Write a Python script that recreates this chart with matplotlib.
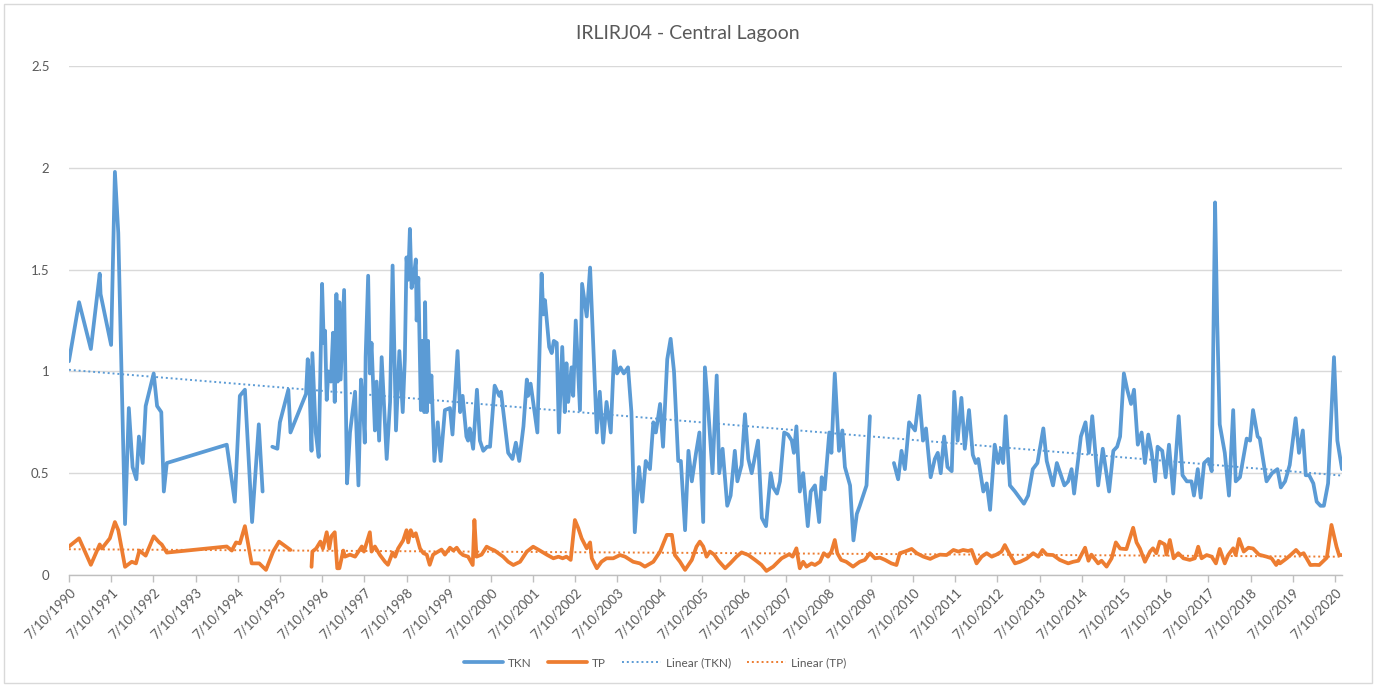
import numpy as np
import matplotlib
matplotlib.use("Agg")
import matplotlib.pyplot as plt
import matplotlib.dates as mdates
from matplotlib.patches import Rectangle
from datetime import datetime, timedelta

plt.rcParams['font.family'] = ['Lato', 'DejaVu Sans']

title = "IRLIRJ04 - Central Lagoon"
series_names = ["TKN", "TP", "Linear (TKN)", "Linear (TP)"]
tick_years = list(range(1990, 2021))

# sampling dates (decimal years) and values; NaN marks breaks in the line
tkn_years = [
    1990.52, 1990.76, 1991.04, 1991.25, 1991.27, 1991.52, 1991.61, 1991.69, 1991.85, 1991.94,
    1992.03, 1992.12, 1992.18, 1992.27, 1992.34, 1992.53, 1992.61, 1992.71, 1992.77, 1992.84,
    1994.26, 1994.45, 1994.57, 1994.69, 1994.86, 1995.02, 1995.11, 1995.20, 1995.34, 1995.46,
    1995.52, 1995.72, 1995.77, 1996.14, 1996.18, 1996.21, 1996.27, 1996.29, 1996.37, 1996.44,
    1996.52, 1996.56, 1996.59, 1996.63, 1996.67, 1996.73, 1996.78, 1996.82, 1996.86, 1996.89,
    1996.93, 1996.96, 1997.04, 1997.11, 1997.18, 1997.30, 1997.38, 1997.44, 1997.49, 1997.53,
    1997.55, 1997.61, 1997.65, 1997.69, 1997.77, 1997.81, 1997.87, 1997.93, 1998.05, 1998.13,
    1998.19, 1998.27, 1998.35, 1998.43, 1998.48, 1998.52, 1998.56, 1998.60, 1998.64, 1998.70,
    1998.74, 1998.76, 1998.80, 1998.86, 1998.90, 1998.94, 1998.96, 1999.00, 1999.03, 1999.07,
    1999.11, 1999.18, 1999.26, 1999.33, 1999.43, 1999.55, 1999.61, 1999.73, 1999.79, 1999.85,
    1999.94, 1999.98, 2000.02, 2000.10, 2000.19, 2000.26, 2000.34, 2000.43, 2000.50, 2000.61,
    2000.72, 2000.76, 2000.93, 2001.03, 2001.11, 2001.19, 2001.29, 2001.37, 2001.40, 2001.46,
    2001.62, 2001.72, 2001.76, 2001.80, 2001.90, 2001.96, 2002.01, 2002.08, 2002.13, 2002.21,
    2002.27, 2002.31, 2002.35, 2002.43, 2002.47, 2002.53, 2002.63, 2002.68, 2002.79, 2002.87,
    2003.03, 2003.10, 2003.18, 2003.26, 2003.36, 2003.44, 2003.51, 2003.59, 2003.67, 2003.77,
    2003.85, 2003.93, 2004.03, 2004.11, 2004.19, 2004.29, 2004.37, 2004.43, 2004.53, 2004.60,
    2004.70, 2004.78, 2004.86, 2004.96, 2005.02, 2005.12, 2005.20, 2005.28, 2005.38, 2005.46,
    2005.55, 2005.59, 2005.67, 2005.77, 2005.87, 2005.93, 2006.01, 2006.12, 2006.20, 2006.30,
    2006.36, 2006.46, 2006.54, 2006.62, 2006.70, 2006.85, 2006.94, 2007.04, 2007.15, 2007.21,
    2007.30, 2007.37, 2007.47, 2007.56, 2007.65, 2007.70, 2007.76, 2007.84, 2007.92, 2008.03,
    2008.10, 2008.20, 2008.30, 2008.36, 2008.43, 2008.54, 2008.59, 2008.67, 2008.77, 2008.85,
    2008.91, 2009.03, 2009.11, 2009.19, 2009.26, 2009.42, 2009.50, 2009.80, 2010.07, 2010.17,
    2010.25, 2010.33, 2010.43, 2010.57, 2010.67, 2010.76, 2010.83, 2010.94, 2011.04, 2011.11,
    2011.18, 2011.26, 2011.34, 2011.44, 2011.50, 2011.58, 2011.67, 2011.75, 2011.85, 2011.94,
    2012.01, 2012.07, 2012.19, 2012.27, 2012.35, 2012.46, 2012.54, 2012.61, 2012.66, 2012.72,
    2012.82, 2012.94, 2013.15, 2013.25, 2013.36, 2013.47, 2013.61, 2013.69, 2013.84, 2013.93,
    2014.11, 2014.20, 2014.28, 2014.34, 2014.50, 2014.61, 2014.69, 2014.77, 2014.91, 2015.02,
    2015.17, 2015.27, 2015.36, 2015.43, 2015.52, 2015.60, 2015.69, 2015.76, 2015.85, 2015.94,
    2016.02, 2016.10, 2016.18, 2016.26, 2016.32, 2016.43, 2016.51, 2016.59, 2016.69, 2016.82,
    2016.91, 2017.01, 2017.12, 2017.18, 2017.27, 2017.34, 2017.42, 2017.52, 2017.60, 2017.68,
    2017.73, 2017.79, 2017.91, 2018.01, 2018.11, 2018.17, 2018.27, 2018.43, 2018.51, 2018.58,
    2018.69, 2018.74, 2018.90, 2019.03, 2019.16, 2019.24, 2019.34, 2019.45, 2019.59, 2019.67,
    2019.76, 2019.83, 2019.91, 2020.01, 2020.09, 2020.18, 2020.26, 2020.36, 2020.50, 2020.58,
    2020.69,
]
tkn_values = [
    1.05, 1.34, 1.11, 1.48, 1.38, 1.13, 1.98, 1.68, 0.25, 0.82,
    0.53, 0.47, 0.68, 0.55, 0.83, 0.99, 0.83, 0.80, 0.41, 0.55,
    0.64, 0.36, 0.88, 0.91, 0.26, 0.74, 0.41, np.nan, 0.63, 0.62,
    0.75, 0.91, 0.70, 0.89, 1.06, 1.00, 0.61, 1.09, 0.70, 0.58,
    1.43, 1.14, 1.20, 0.86, 1.00, 0.95, 1.19, 0.85, 1.38, 0.95,
    1.34, 0.96, 1.40, 0.45, 0.70, 0.90, 0.44, 0.96, 0.83, 0.65,
    1.07, 1.47, 0.99, 1.14, 0.71, 0.95, 0.66, 1.07, 0.57, 0.85,
    1.52, 0.71, 1.10, 0.80, 1.06, 1.56, 1.45, 1.70, 1.41, 1.48,
    1.55, 1.25, 1.46, 0.81, 1.15, 0.80, 1.34, 0.80, 1.15, 0.85,
    0.98, 0.56, 0.75, 0.56, 0.81, 0.82, 0.69, 1.10, 0.80, 0.88,
    0.68, 0.66, 0.72, 0.62, 0.91, 0.66, 0.61, 0.63, 0.63, 0.93,
    0.88, 0.90, 0.60, 0.57, 0.65, 0.56, 0.73, 0.96, 0.88, 0.94,
    0.70, 1.48, 1.28, 1.35, 1.12, 1.09, 1.15, 1.14, 0.70, 1.12,
    0.80, 1.04, 0.85, 1.02, 0.88, 1.25, 0.81, 1.43, 1.27, 1.51,
    0.70, 0.90, 0.65, 0.85, 0.70, 1.10, 0.99, 1.02, 0.99, 1.02,
    0.80, 0.21, 0.53, 0.36, 0.56, 0.52, 0.75, 0.70, 0.84, 0.63,
    1.06, 1.16, 1.00, 0.56, 0.56, 0.22, 0.61, 0.46, 0.60, 0.70,
    0.26, 1.02, 0.81, 0.50, 0.98, 0.50, 0.62, 0.34, 0.39, 0.61,
    0.46, 0.54, 0.79, 0.57, 0.50, 0.66, 0.28, 0.24, 0.50, 0.43,
    0.40, 0.46, 0.70, 0.69, 0.66, 0.60, 0.73, 0.41, 0.50, 0.24,
    0.41, 0.44, 0.26, 0.48, 0.42, 0.70, 0.60, 0.99, 0.61, 0.71,
    0.53, 0.44, 0.17, 0.30, 0.34, 0.44, 0.78, np.nan, 0.55, 0.47,
    0.61, 0.52, 0.75, 0.71, 0.88, 0.66, 0.72, 0.48, 0.57, 0.60,
    0.50, 0.68, 0.53, 0.51, 0.90, 0.66, 0.87, 0.62, 0.81, 0.59,
    0.55, 0.57, 0.41, 0.45, 0.32, 0.64, 0.55, 0.62, 0.55, 0.78,
    0.44, 0.41, 0.35, 0.39, 0.52, 0.55, 0.72, 0.56, 0.44, 0.55,
    0.44, 0.46, 0.52, 0.40, 0.68, 0.75, 0.60, 0.78, 0.44, 0.62,
    0.41, 0.61, 0.63, 0.68, 0.99, 0.91, 0.84, 0.91, 0.64, 0.70,
    0.55, 0.69, 0.60, 0.46, 0.63, 0.61, 0.48, 0.64, 0.40, 0.78,
    0.49, 0.46, 0.46, 0.39, 0.52, 0.38, 0.55, 0.57, 0.51, 1.83,
    1.25, 0.74, 0.60, 0.39, 0.81, 0.46, 0.48, 0.67, 0.66, 0.81,
    0.68, 0.67, 0.46, 0.50, 0.52, 0.43, 0.46, 0.54, 0.77, 0.60,
    0.71, 0.49, 0.49, 0.45, 0.36, 0.34, 0.34, 0.45, 1.07, 0.66,
    0.52,
]

tp_years = [
    1990.52, 1990.76, 1991.04, 1991.25, 1991.30, 1991.49, 1991.61, 1991.69, 1991.85, 1992.01,
    1992.11, 1992.19, 1992.34, 1992.53, 1992.66, 1992.72, 1992.84, 1994.26, 1994.38, 1994.48,
    1994.57, 1994.69, 1994.85, 1995.03, 1995.19, 1995.36, 1995.50, 1995.77, 1995.95, 1996.27,
    1996.29, 1996.38, 1996.48, 1996.54, 1996.63, 1996.69, 1996.74, 1996.82, 1996.88, 1996.93,
    1997.02, 1997.06, 1997.18, 1997.30, 1997.46, 1997.51, 1997.65, 1997.69, 1997.77, 1997.89,
    1998.01, 1998.08, 1998.19, 1998.25, 1998.32, 1998.44, 1998.52, 1998.56, 1998.62, 1998.68,
    1998.74, 1998.84, 1998.92, 1999.00, 1999.07, 1999.15, 1999.27, 1999.35, 1999.43, 1999.55,
    1999.63, 1999.71, 1999.79, 1999.86, 1999.98, 2000.09, 2000.13, 2000.18, 2000.30, 2000.42,
    2000.50, 2000.61, 2000.81, 2000.93, 2001.05, 2001.21, 2001.37, 2001.52, 2001.68, 2001.84,
    2002.00, 2002.12, 2002.22, 2002.31, 2002.41, 2002.51, 2002.59, 2002.67, 2002.72, 2002.79,
    2002.87, 2002.91, 2003.03, 2003.14, 2003.26, 2003.42, 2003.58, 2003.70, 2003.89, 2004.05,
    2004.17, 2004.37, 2004.53, 2004.69, 2004.81, 2004.88, 2005.00, 2005.12, 2005.28, 2005.39,
    2005.47, 2005.55, 2005.63, 2005.71, 2005.81, 2005.91, 2006.07, 2006.19, 2006.34, 2006.46,
    2006.62, 2006.78, 2006.93, 2007.05, 2007.21, 2007.41, 2007.59, 2007.67, 2007.76, 2007.84,
    2007.92, 2008.00, 2008.12, 2008.20, 2008.32, 2008.41, 2008.51, 2008.59, 2008.67, 2008.73,
    2008.82, 2008.94, 2009.10, 2009.26, 2009.38, 2009.50, 2009.62, 2009.74, 2009.86, 2010.01,
    2010.13, 2010.21, 2010.33, 2010.49, 2010.61, 2010.77, 2010.93, 2011.04, 2011.16, 2011.32,
    2011.48, 2011.60, 2011.71, 2011.83, 2011.91, 2012.03, 2012.15, 2012.27, 2012.39, 2012.50,
    2012.62, 2012.70, 2012.78, 2012.94, 2013.06, 2013.21, 2013.37, 2013.49, 2013.59, 2013.69,
    2013.84, 2014.00, 2014.20, 2014.32, 2014.44, 2014.60, 2014.68, 2014.75, 2014.91, 2014.99,
    2015.11, 2015.23, 2015.33, 2015.43, 2015.58, 2015.74, 2015.82, 2015.90, 2016.02, 2016.14,
    2016.21, 2016.29, 2016.37, 2016.49, 2016.53, 2016.61, 2016.70, 2016.81, 2016.93, 2017.08,
    2017.20, 2017.28, 2017.36, 2017.48, 2017.60, 2017.70, 2017.79, 2017.91, 2017.99, 2018.11,
    2018.17, 2018.25, 2018.36, 2018.47, 2018.58, 2018.72, 2018.90, 2019.02, 2019.13, 2019.18,
    2019.22, 2019.38, 2019.48, 2019.60, 2019.70, 2019.78, 2019.94, 2020.05, 2020.15, 2020.33,
    2020.44, 2020.56, 2020.62, 2020.69,
]
tp_values = [
    0.14, 0.18, 0.05, 0.15, 0.13, 0.18, 0.26, 0.22, 0.04, 0.065,
    0.057, 0.12, 0.095, 0.19, 0.16, 0.15, 0.11, 0.14, 0.12, 0.16,
    0.155, 0.24, 0.057, 0.057, 0.025, 0.115, 0.164, 0.123, np.nan, 0.04,
    0.115, 0.13, 0.164, 0.13, 0.21, 0.13, 0.19, 0.21, 0.033, 0.033,
    0.12, 0.09, 0.10, 0.09, 0.14, 0.115, 0.21, 0.115, 0.14, 0.098,
    0.065, 0.05, 0.11, 0.09, 0.13, 0.17, 0.22, 0.16, 0.22, 0.19,
    0.205, 0.13, 0.107, 0.10, 0.05, 0.10, 0.115, 0.125, 0.10, 0.134,
    0.12, 0.134, 0.11, 0.098, 0.09, 0.049, 0.27, 0.09, 0.10, 0.139,
    0.13, 0.12, 0.09, 0.065, 0.049, 0.065, 0.115, 0.139, 0.12, 0.10,
    0.082, 0.09, 0.082, 0.09, 0.074, 0.27, 0.23, 0.18, 0.16, 0.131,
    0.16, 0.082, 0.033, 0.065, 0.082, 0.082, 0.098, 0.09, 0.065, 0.057,
    0.041, 0.065, 0.115, 0.197, 0.197, 0.098, 0.065, 0.025, 0.074, 0.139,
    0.164, 0.14, 0.09, 0.115, 0.10, 0.07, 0.033, 0.057, 0.09, 0.111,
    0.098, 0.074, 0.05, 0.02, 0.041, 0.082, 0.102, 0.09, 0.131, 0.033,
    0.065, 0.041, 0.057, 0.049, 0.065, 0.107, 0.09, 0.115, 0.172, 0.107,
    0.074, 0.065, 0.041, 0.065, 0.074, 0.107, 0.082, 0.085, 0.074, 0.057,
    0.049, 0.107, 0.115, 0.128, 0.107, 0.09, 0.079, 0.09, 0.10, 0.098,
    0.123, 0.115, 0.123, 0.118, 0.123, 0.057, 0.09, 0.107, 0.09, 0.10,
    0.115, 0.147, 0.115, 0.057, 0.065, 0.08, 0.107, 0.09, 0.123, 0.10,
    0.098, 0.074, 0.057, 0.065, 0.07, 0.134, 0.07, 0.10, 0.057, 0.07,
    0.041, 0.082, 0.16, 0.13, 0.127, 0.232, 0.16, 0.13, 0.065, 0.115,
    0.131, 0.107, 0.164, 0.15, 0.10, 0.172, 0.082, 0.107, 0.082, 0.074,
    0.082, 0.139, 0.082, 0.098, 0.09, 0.057, 0.128, 0.057, 0.098, 0.131,
    0.098, 0.177, 0.115, 0.134, 0.13, 0.10, 0.09, 0.082, 0.049, 0.07,
    0.057, 0.082, 0.10, 0.123, 0.10, 0.107, 0.049, 0.05, 0.049, 0.085,
    0.246, 0.139, 0.098, 0.098,
]


def to_dates(years):
    out = []
    for y in years:
        yr = int(y)
        out.append(datetime(yr, 1, 1) + timedelta(days=(y - yr) * 365.25))
    return out


tkn_dates = to_dates(tkn_years)
tp_dates = to_dates(tp_years)

C_TKN = "#5B9BD5"
C_TP = "#ED7D31"
GRID = "#D9D9D9"
TXT = "#595959"

fig = plt.figure(figsize=(13.76, 6.85), dpi=100)
fig.patches.append(Rectangle((0.003, 0.003), 0.994, 0.991, transform=fig.transFigure,
                             fill=False, edgecolor="#D9D9D9", linewidth=1.0))
ax = fig.add_axes([0.0501, 0.1606, 0.9753 - 0.0501, 0.9036 - 0.1606])

tkn_x = mdates.date2num(tkn_dates)
tp_x = mdates.date2num(tp_dates)
tkn_y = np.array(tkn_values, dtype=float)
tp_y = np.array(tp_values, dtype=float)

l1, = ax.plot(tkn_dates, tkn_y, color=C_TKN, lw=2.7, solid_joinstyle="round",
              solid_capstyle="round", zorder=3)
l2, = ax.plot(tp_dates, tp_y, color=C_TP, lw=2.7, solid_joinstyle="round",
              solid_capstyle="round", zorder=3)

# linear trendlines
m1 = ~np.isnan(tkn_y)
p1 = np.polyfit(tkn_x[m1], tkn_y[m1], 1)
xs1 = np.array([tkn_x[m1].min(), tkn_x[m1].max()])
l3, = ax.plot(mdates.num2date(xs1), np.polyval(p1, xs1), color=C_TKN, lw=1.4,
              linestyle=(0, (1, 1.5)), zorder=4)
m2 = ~np.isnan(tp_y)
p2 = np.polyfit(tp_x[m2], tp_y[m2], 1)
xs2 = np.array([tp_x[m2].min(), tp_x[m2].max()])
l4, = ax.plot(mdates.num2date(xs2), np.polyval(p2, xs2), color=C_TP, lw=1.4,
              linestyle=(0, (1, 1.5)), zorder=4)

ax.set_ylim(0, 2.5)
ax.set_yticks([0, 0.5, 1, 1.5, 2, 2.5])
ax.set_yticklabels(["0", "0.5", "1", "1.5", "2", "2.5"])
ax.set_xlim(min(tkn_dates[0], tp_dates[0]), max(tkn_dates[-1], tp_dates[-1]))
ticks = [datetime(y, 7, 10) for y in tick_years]
ax.set_xticks(ticks)
ax.set_xticklabels([f"{d.month}/{d.day}/{d.year}" for d in ticks], rotation=45,
                   ha="right", rotation_mode="anchor")

ax.grid(axis="y", color=GRID, linewidth=1.0, zorder=0)
for s in ["top", "right", "left"]:
    ax.spines[s].set_visible(False)
ax.spines["bottom"].set_color("#BFBFBF")
ax.spines["bottom"].set_linewidth(1.0)
ax.tick_params(axis="x", colors="#BFBFBF", labelcolor=TXT, labelsize=9.5, length=5, width=1, pad=3)
ax.tick_params(axis="y", length=0, labelcolor=TXT, labelsize=9.5, pad=14)

fig.text(0.5, 0.951, title, ha="center", va="center", fontsize=14, color=TXT)

fig.legend([l1, l2, l3, l4], series_names, loc="center", bbox_to_anchor=(0.476, 0.032),
           ncol=4, frameon=False, fontsize=8.5, labelcolor=TXT, handlelength=3.3,
           columnspacing=1.4, handletextpad=0.4)

fig.savefig("out.png", dpi=100, facecolor="white")
